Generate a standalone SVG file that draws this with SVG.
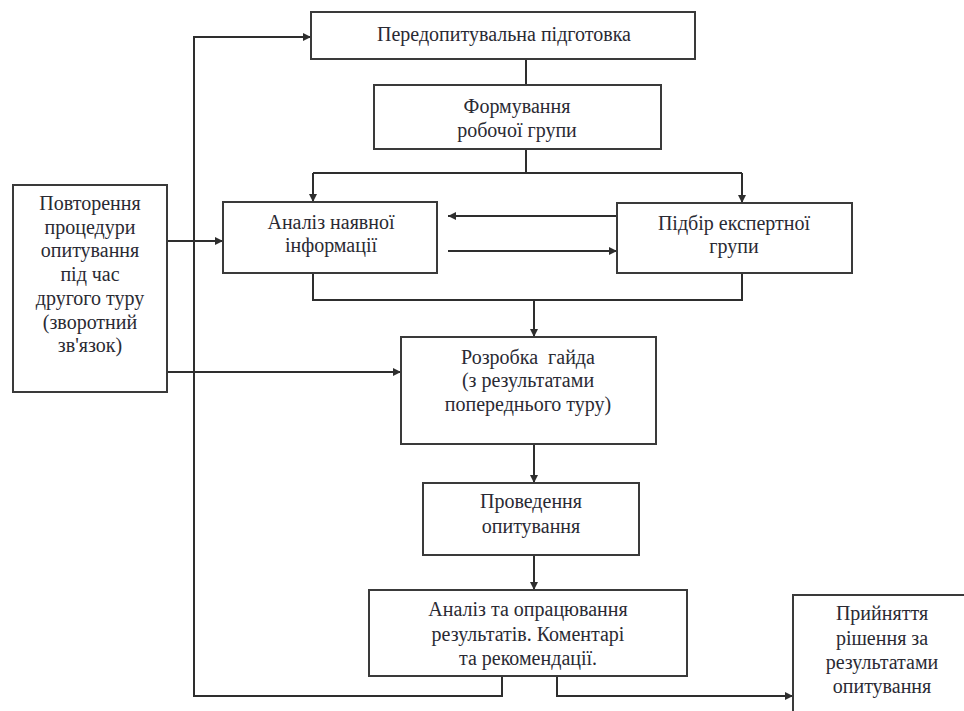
<svg xmlns="http://www.w3.org/2000/svg" width="964" height="711" viewBox="0 0 964 711">
<style>
.box{fill:#fff;stroke:#3a3a3a;stroke-width:2}
.t{font-family:'Liberation Serif','Times New Roman',serif;font-size:20px;fill:#2a2a33;text-anchor:middle}
.c{fill:none;stroke:#2e2e2e;stroke-width:2}
</style>
<defs>
<marker id="ah" viewBox="0 0 10 10" refX="10" refY="5" markerWidth="9" markerHeight="8" markerUnits="userSpaceOnUse" orient="auto">
<path d="M0,0 L10,5 L0,10 z" fill="#2e2e2e"/>
</marker>
</defs>
<rect width="964" height="711" fill="#fff"/>
<g id="connectors">
<path class="c" d="M526,59 V85"/>
<path class="c" d="M526,149 V173"/>
<path class="c" d="M313,173 H742"/>
<path class="c" d="M313,173 V202" marker-end="url(#ah)"/>
<path class="c" d="M742,173 V203" marker-end="url(#ah)"/>
<path class="c" d="M617,216 H448" marker-end="url(#ah)"/>
<path class="c" d="M448,251 H617" marker-end="url(#ah)"/>
<path class="c" d="M313,273 V300 H742 V273"/>
<path class="c" d="M534,300 V337" marker-end="url(#ah)"/>
<path class="c" d="M534,444 V483" marker-end="url(#ah)"/>
<path class="c" d="M534,555 V590" marker-end="url(#ah)"/>
<path class="c" d="M502,676 V696 H194 V37 H311" marker-end="url(#ah)"/>
<path class="c" d="M557,676 V696 H793" marker-end="url(#ah)"/>
<path class="c" d="M167,241 H223" marker-end="url(#ah)"/>
<path class="c" d="M167,372 H401" marker-end="url(#ah)"/>
</g>
<g id="n1"><rect class="box" x="311" y="12" width="384" height="47"/><text class="t" x="504" y="41">Передопитувальна підготовка</text></g>
<g id="n2"><rect class="box" x="374" y="85" width="287" height="64"/><text class="t" x="517" y="113">Формування</text><text class="t" x="517" y="137">робочої групи</text></g>
<g id="n3"><rect class="box" x="223" y="202" width="214" height="71"/><text class="t" x="331" y="229">Аналіз наявної</text><text class="t" x="331" y="252">інформації</text></g>
<g id="n4"><rect class="box" x="617" y="203" width="235" height="70"/><text class="t" x="734" y="230">Підбір експертної</text><text class="t" x="734" y="253">групи</text></g>
<g id="n0"><rect class="box" x="13" y="185" width="154" height="207"/>
<text class="t" x="90" y="210">Повторення</text>
<text class="t" x="90" y="234">процедури</text>
<text class="t" x="90" y="257">опитування</text>
<text class="t" x="90" y="281">під час</text>
<text class="t" x="90" y="305">другого туру</text>
<text class="t" x="90" y="329">(зворотний</text>
<text class="t" x="90" y="352">зв'язок)</text></g>
<g id="n5"><rect class="box" x="401" y="337" width="255" height="107"/><text class="t" x="528" y="364" xml:space="preserve">Розробка  гайда</text><text class="t" x="528" y="387">(з результатами</text><text class="t" x="528" y="411">попереднього туру)</text></g>
<g id="n6"><rect class="box" x="423" y="483" width="216" height="72"/><text class="t" x="531" y="508">Проведення</text><text class="t" x="531" y="533">опитування</text></g>
<g id="n7"><rect class="box" x="369" y="590" width="318" height="86"/><text class="t" x="528" y="616">Аналіз та опрацювання</text><text class="t" x="528" y="641">результатів. Коментарі</text><text class="t" x="528" y="665">та рекомендації.</text></g>
<g id="n8"><rect class="box" x="793" y="595" width="180" height="130"/><text class="t" x="882" y="620">Прийняття</text><text class="t" x="882" y="645">рішення за</text><text class="t" x="882" y="669">результатами</text><text class="t" x="882" y="693">опитування</text></g>
</svg>
